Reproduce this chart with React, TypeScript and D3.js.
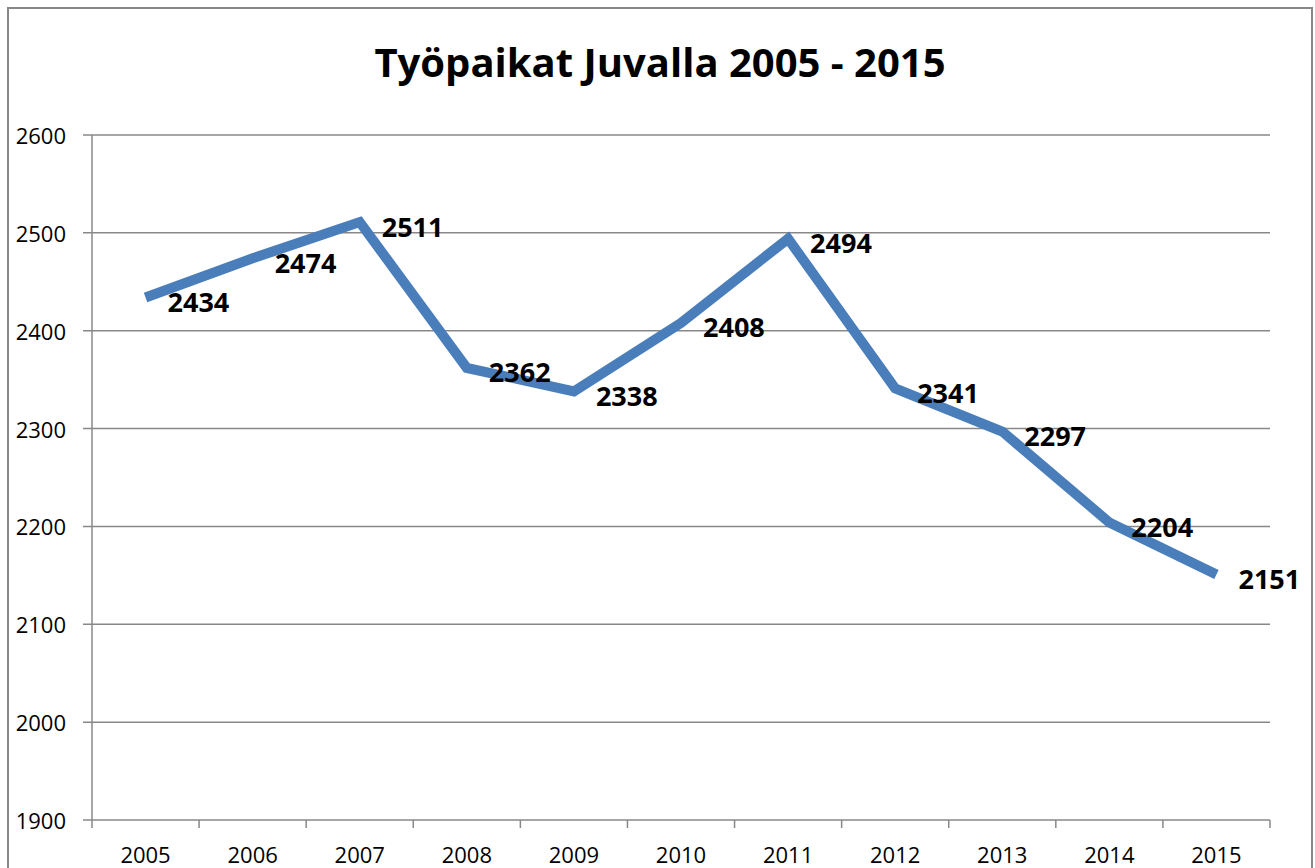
import React from 'react';
import { scaleBand, scaleLinear, line, range } from 'd3';

const years = ['2005', '2006', '2007', '2008', '2009', '2010', '2011', '2012', '2013', '2014', '2015'];
const jobs = [2434, 2474, 2511, 2362, 2338, 2408, 2494, 2341, 2297, 2204, 2151];
const yTicks = [1900, 2000, 2100, 2200, 2300, 2400, 2500, 2600];
const title = 'Työpaikat Juvalla 2005 - 2015';

const W = 1315;
const H = 868;
const left = 92;
const right = 1270;
const top = 135;
const bottom = 820;
const font = '"Open Sans", sans-serif';
const gray = '#888888';

export default function App() {
  const x = scaleBand<string>().domain(years).range([left, right]);
  const y = scaleLinear().domain([1900, 2600]).range([bottom, top]);
  const cx = (d: string) => (x(d) ?? 0) + x.bandwidth() / 2;

  const path = line<number>()
    .x((d, i) => cx(years[i]))
    .y((d) => y(d))(jobs);

  const tickXs = range(years.length + 1).map((i) => left + i * x.bandwidth());

  return (
    <div style={{ position: 'absolute', left: 0, top: 0 }}>
      <svg width={W} height={H} style={{ display: 'block', background: '#fff' }}>
        <rect x={8} y={8} width={1304} height={900} fill="#fff" stroke={gray} strokeWidth={2} />
        <text
          x={660}
          y={77}
          textAnchor="middle"
          fontFamily={font}
          fontWeight="bold"
          fontSize={40}
          fill="#000"
        >
          {title}
        </text>

        {yTicks.map((t) => (
          <g key={t}>
            <line x1={left - 9} x2={right} y1={y(t)} y2={y(t)} stroke={gray} strokeWidth={1.5} />
            <text
              x={66}
              y={y(t)}
              textAnchor="end"
              dominantBaseline="central"
              fontFamily={font}
              fontSize={22}
              fill="#000"
            >
              {t}
            </text>
          </g>
        ))}

        <line x1={left} x2={left} y1={top} y2={bottom} stroke={gray} strokeWidth={1.5} />
        {tickXs.map((tx, i) => (
          <line key={i} x1={tx} x2={tx} y1={bottom} y2={bottom + 8} stroke={gray} strokeWidth={1.5} />
        ))}
        {years.map((yr) => (
          <text
            key={yr}
            x={cx(yr)}
            y={863}
            textAnchor="middle"
            fontFamily={font}
            fontSize={22}
            fill="#000"
          >
            {yr}
          </text>
        ))}

        <path d={path ?? ''} fill="none" stroke="#4a7ebb" strokeWidth={10} strokeLinejoin="miter" strokeLinecap="butt" />

        {jobs.map((v, i) => (
          <text
            key={i}
            x={cx(years[i]) + 22}
            y={y(v) + 4}
            dominantBaseline="central"
            fontFamily={font}
            fontWeight="bold"
            fontSize={27}
            fill="#000"
          >
            {v}
          </text>
        ))}
      </svg>
    </div>
  );
}
